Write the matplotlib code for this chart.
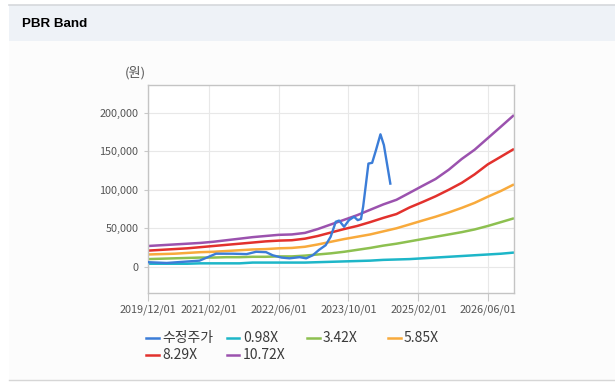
#!/usr/bin/env python
"""PBR band chart: adjusted price vs. PBR multiple bands."""

import matplotlib

matplotlib.use("Agg")
import matplotlib.dates as mdates  # noqa: E402
import matplotlib.pyplot as plt  # noqa: E402
import pandas as pd  # noqa: E402
from matplotlib.lines import Line2D  # noqa: E402
from matplotlib.patches import Rectangle  # noqa: E402
from matplotlib.ticker import FuncFormatter  # noqa: E402

plt.rcParams["font.family"] = ["Noto Sans CJK KR", "DejaVu Sans"]

W, H = 615, 390

# quarterly band points 2019/12 .. 2026/12
quarters = pd.date_range("2019-12-01", "2026-12-01", freq="3MS")
band_098 = [4000, 4000, 4000, 4000, 4500, 4500, 4500, 4500, 5500, 5500, 5500, 5500, 5500, 6000, 6500,
            7000, 7500, 8000, 9000, 9500, 10000, 11000, 12000, 13000, 14000, 15000, 16000, 17000, 18500]
band_342 = [10000, 10500, 11000, 11500, 12000, 12000, 12500, 12500, 13000, 13000, 13500, 13500, 14500, 16000, 17500,
            19500, 22000, 24500, 27500, 30000, 33000, 36000, 39000, 42000, 45000, 48500, 53000, 58000, 63000]
band_585 = [16000, 16500, 17000, 18000, 19000, 19500, 20500, 21500, 22500, 23000, 24000, 24500, 26000, 29000, 32500,
            36000, 39000, 42000, 46000, 50000, 55000, 60000, 65000, 70500, 76500, 83000, 91000, 98500, 107000]
band_829 = [21000, 22000, 23000, 24000, 25500, 27000, 28500, 30000, 31500, 33000, 34000, 34500, 36500, 40000, 44500,
            49000, 53000, 58000, 63500, 68500, 77000, 84000, 91500, 100000, 109000, 120000, 133000, 143000, 153000]
band_1072 = [27000, 28000, 29000, 30000, 31000, 32500, 34500, 36500, 38500, 40000, 41500, 42000, 44000, 49000, 55000,
             61000, 67000, 74000, 81000, 87000, 96000, 105000, 114000, 126000, 140000, 152000, 167000, 182000, 197000]
band_labels = ["0.98X", "3.42X", "5.85X", "8.29X", "10.72X"]
band_colors = ["#1db6c8", "#8dc050", "#f8aa3c", "#e2312d", "#9b52ae"]

price_label = "수정주가"
price_color = "#3b7dd8"
price_dates = [
    "2019-12-01", "2020-04-10", "2020-08-01", "2020-11-25", "2021-01-15", "2021-03-20", "2021-07-15",
    "2021-10-20", "2021-12-25", "2022-03-05", "2022-04-20", "2022-06-20", "2022-08-15", "2022-10-25",
    "2022-12-10", "2023-01-25", "2023-03-10", "2023-04-25", "2023-05-30", "2023-07-05", "2023-07-28",
    "2023-09-01", "2023-10-05", "2023-11-10", "2023-12-05", "2023-12-28", "2024-01-12", "2024-02-01",
    "2024-02-18", "2024-03-15", "2024-04-10", "2024-05-12", "2024-06-05", "2024-07-20",
]
price = [6000, 5000, 6500, 8000, 12000, 17000, 17000, 16500, 19500, 19000, 15000, 12000, 11000, 12500,
         11000, 15000, 22000, 28000, 39000, 58500, 60000, 52000, 60600, 64900, 60600, 62000, 78000, 108000,
         134000, 135000, 151000, 172000, 158000, 108000]

x_ticks = ["2019-12-01", "2021-02-01", "2022-06-01", "2023-10-01", "2025-02-01", "2026-06-01"]
y_ticks = [0, 50000, 100000, 150000, 200000]


def fx(px):
    return px / W


def fy(py):
    return 1 - py / H


def main():
    fig = plt.figure(figsize=(W / 100, H / 100), dpi=100, facecolor="white")

    # page chrome: header strip + content panel
    fig.add_artist(Rectangle((fx(9), fy(380)), fx(606), 339 / H, transform=fig.transFigure,
                             facecolor="#fcfcfc", edgecolor="none", zorder=0))
    fig.add_artist(Rectangle((fx(9), fy(41)), fx(606), 36 / H, transform=fig.transFigure,
                             facecolor="#eef2f7", edgecolor="none", zorder=0))
    fig.add_artist(Line2D([fx(9), 1], [fy(5), fy(5)], color="#d5d8dc", lw=1.2))
    fig.add_artist(Line2D([fx(9), 1], [fy(380), fy(380)], color="#d6d6d6", lw=1))
    fig.text(fx(22), fy(24), "PBR Band", family="Liberation Sans", weight="bold", size=9.6,
             va="center", ha="left", color="#000000")

    ax = fig.add_axes([fx(148), fy(293), fx(514 - 148), (293 - 85) / H])
    ax.set_facecolor("white")

    dates = pd.to_datetime(price_dates)
    for vals, lab, col in zip([band_098, band_342, band_585, band_829, band_1072], band_labels, band_colors):
        ax.plot(quarters, vals, color=col, lw=1.8, label=lab, solid_capstyle="butt")
    ax.plot(dates, price, color=price_color, lw=1.7, label=price_label, zorder=5)

    ax.set_xlim(pd.Timestamp("2019-12-01"), pd.Timestamp("2026-12-01"))
    ax.set_ylim(-34000, 236000)
    ax.set_xticks(pd.to_datetime(x_ticks))
    ax.xaxis.set_major_formatter(mdates.DateFormatter("%Y/%m/%d"))
    ax.set_yticks(y_ticks)
    ax.yaxis.set_major_formatter(FuncFormatter(lambda v, _: f"{int(v):,}"))
    ax.tick_params(axis="x", length=6, pad=2, color="#c8c8c8", labelsize=7.8, labelcolor="#555555")
    ax.tick_params(axis="y", length=3, pad=4, color="#c8c8c8", labelsize=7.8, labelcolor="#555555")
    ax.grid(True, color="#e8e8e8", lw=0.8)
    ax.set_axisbelow(True)
    for s in ax.spines.values():
        s.set_color("#c4c4c4")
        s.set_linewidth(1)

    fig.text(fx(125), fy(73), "(원)", size=9.5, color="#555555", va="center", ha="left")

    # legend laid out as in the source widget (row-major, fixed column pitch)
    items = [(price_label, price_color)] + list(zip(band_labels, band_colors))
    col_x = [146, 227, 307, 388]
    row_y = [338, 355]
    for i, (lab, col) in enumerate(items):
        x0 = col_x[i % 4]
        y0 = row_y[i // 4]
        fig.add_artist(Line2D([fx(x0), fx(x0 + 12.5)], [fy(y0), fy(y0)], color=col, lw=1.8))
        fig.text(fx(x0 + 16), fy(y0), lab, size=10, color="#3a3a3a", va="center", ha="left")

    fig.savefig("out.png", dpi=100, facecolor=fig.get_facecolor())
    plt.close(fig)


if __name__ == "__main__":
    main()
